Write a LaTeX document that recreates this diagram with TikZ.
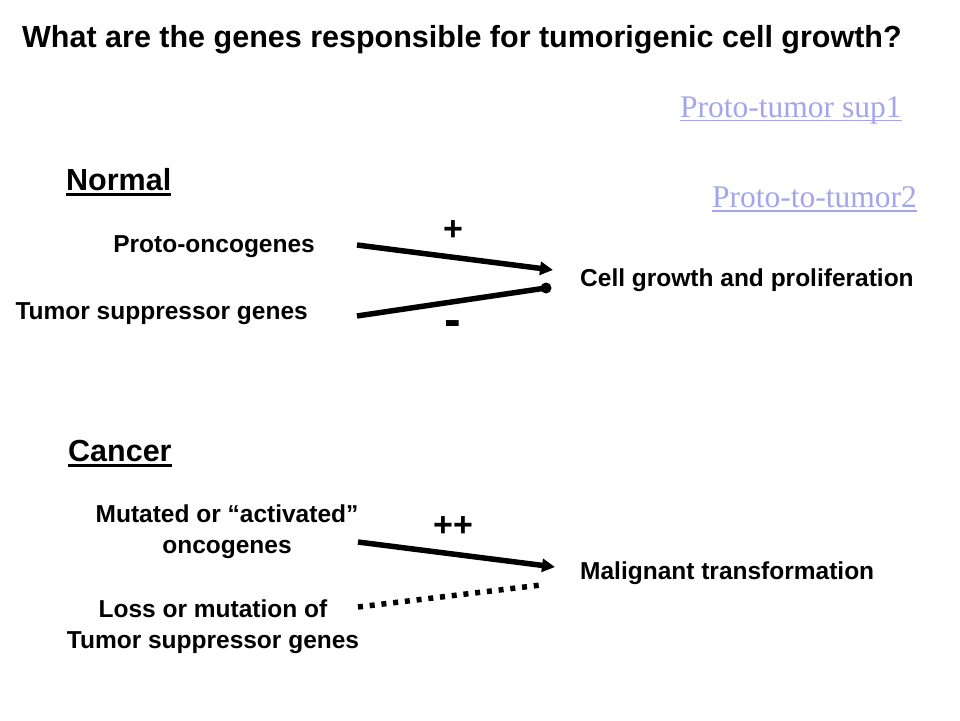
\documentclass[tikz,border=0pt]{standalone}
\usepackage{fontspec}
\setmainfont{Liberation Sans}
\newfontfamily\linkfont{Liberation Serif}
\usetikzlibrary{arrows.meta}
\definecolor{linkblue}{RGB}{165,165,237}
\tikzset{
  lbl/.style={font=\bfseries\fontsize{24.5}{31}\selectfont, inner sep=0pt},
  head/.style={font=\bfseries\fontsize{30.5}{34}\selectfont, inner sep=0pt},
  link/.style={font=\linkfont\fontsize{31.5}{34}\selectfont, text=linkblue, inner sep=0pt},
  sign/.style={font=\bfseries\fontsize{34}{38}\selectfont, inner sep=0pt},
  bigminus/.style={font=\bfseries\fontsize{50}{54}\selectfont, inner sep=0pt},
  thickline/.style={line width=5.5pt},
  arrowline/.style={thickline, -{Triangle[length=13pt,width=13pt]}},
  dotline/.style={thickline, dash pattern=on 5pt off 6.8pt},
  linkrule/.style={draw=linkblue, line width=1.2pt},
  headrule/.style={draw=black, line width=2.4pt},
}
\begin{document}
\begin{tikzpicture}[x=1pt,y=-1pt]
\useasboundingbox (0,0) rectangle (960,720);
\fill[white] (0,0) rectangle (960,720);
\node[head, anchor=base west] (title) at (22,47) {What are the genes responsible for tumorigenic cell growth?};
\node[link, anchor=base west] (l1) at (680,117) {Proto-tumor sup1};
\draw[linkrule] ([yshift=-3.5pt]l1.base west) -- ([yshift=-3.5pt]l1.base east);
\node[link, anchor=base west] (l2) at (712,207.5) {Proto-to-tumor2};
\draw[linkrule] ([yshift=-3.5pt]l2.base west) -- ([yshift=-3.5pt]l2.base east);
\node[head, anchor=base west] (normal) at (66,190) {Normal};
\draw[headrule] ([yshift=-4.5pt]normal.base west) -- ([yshift=-4.5pt]normal.base east);
\node[lbl, anchor=base east] (proto) at (315,252) {Proto-oncogenes};
\node[lbl, anchor=base east] (tsg) at (308,319) {Tumor suppressor genes};
\node[sign] (plus) at (453,231) {+};
\node[bigminus] (minus) at (453,329) {-};
\coordinate (a1s) at (357,245);
\coordinate (a1e) at (553,270);
\coordinate (a2s) at (357,316);
\coordinate (a2e) at (546,288);
\draw[arrowline] (a1s) -- (a1e);
\draw[thickline] (a2s) -- (a2e);
\fill (a2e) circle (5.5);
\node[lbl, anchor=base west] (cell) at (580,286) {Cell growth and proliferation};
\node[head, anchor=base west] (cancer) at (68,461) {Cancer};
\draw[headrule] ([yshift=-4.5pt]cancer.base west) -- ([yshift=-4.5pt]cancer.base east);
\node[lbl, align=center, anchor=base] (mut) at (227,553.5) {Mutated or \textquotedblleft activated\textquotedblright\\oncogenes};
\node[sign] (pp) at (453,527) {++};
\coordinate (b1s) at (358,542);
\coordinate (b1e) at (555,567);
\coordinate (b2s) at (358,607);
\coordinate (b2e) at (541,585);
\draw[arrowline] (b1s) -- (b1e);
\draw[dotline] (b2s) -- (b2e);
\node[lbl, align=center, anchor=base] (loss) at (213,648) {Loss or mutation of\\Tumor suppressor genes};
\node[lbl, anchor=base west] (mal) at (580,579) {Malignant transformation};
\end{tikzpicture}
\end{document}
